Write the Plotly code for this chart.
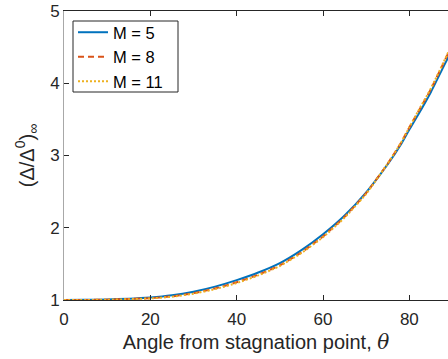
import plotly.graph_objects as go

theta = [0, 5, 10, 15, 20, 25, 30, 35, 40, 45, 50, 55, 60, 65, 70, 75, 78, 80, 82, 85, 88, 90]
m5 = [1.000, 1.002, 1.008, 1.018, 1.035, 1.065, 1.115, 1.185, 1.275, 1.38, 1.51, 1.69, 1.91, 2.17, 2.49, 2.88, 3.15, 3.36, 3.56, 3.88, 4.24, 4.48]
m8 = [1.000, 1.001, 1.005, 1.013, 1.026, 1.050, 1.095, 1.160, 1.245, 1.35, 1.48, 1.66, 1.88, 2.15, 2.48, 2.89, 3.17, 3.39, 3.60, 3.92, 4.29, 4.54]
m11 = [1.000, 1.000, 1.004, 1.011, 1.022, 1.045, 1.088, 1.150, 1.235, 1.34, 1.47, 1.65, 1.87, 2.14, 2.47, 2.89, 3.17, 3.39, 3.61, 3.93, 4.30, 4.56]

names = ["M = 5", "M = 8", "M = 11"]
colors = ["#0072BD", "#D95319", "#EDB120"]
dashes = ["solid", "6px,4px", "2px,2px"]

fig = go.Figure()
for ys, nm, c, d in zip([m5, m8, m11], names, colors, dashes):
    fig.add_trace(go.Scatter(x=theta, y=ys, mode="lines", name=nm,
                             line=dict(color=c, width=2, dash=d, shape="spline", smoothing=0.5)))

# plot area in pixels: x 64..448, y 11..300
def px(x):
    return (x - 64) / 384.0

def py(y):
    return (300 - y) / 289.0

font = "Liberation Sans, Arial, sans-serif"
fig.update_layout(
    width=448, height=359,
    margin=dict(l=64, r=0, t=11, b=59),
    paper_bgcolor="white", plot_bgcolor="white",
    font=dict(family=font, color="#262626"),
    showlegend=True,
    legend=dict(x=px(73), y=py(15), xanchor="left", yanchor="top",
                bgcolor="rgba(0,0,0,0)", borderwidth=0,
                font=dict(size=16.5, color="#000000"), itemwidth=30,
                tracegroupgap=0),
    shapes=[dict(type="rect", xref="paper", yref="paper",
                 x0=px(73), x1=px(178), y0=py(92), y1=py(21),
                 line=dict(color="#262626", width=1), fillcolor="white", layer="below")],
    xaxis=dict(range=[0, 88.95], tickvals=[0, 20, 40, 60, 80], ticks="inside", ticklen=5,
               tickcolor="#262626", showline=True, linecolor="#262626", linewidth=1,
               mirror="ticks", showgrid=False, zeroline=False,
               tickfont=dict(size=17), ticklabelstandoff=4,
               title=dict(text="Angle from stagnation point, <span style=\"font-family:'DejaVu Serif'\"><i>θ</i></span>",
                          font=dict(size=20), standoff=6)),
    yaxis=dict(range=[1, 5], tickvals=[1, 2, 3, 4, 5], ticks="inside", ticklen=5,
               tickcolor="#262626", showline=True, linecolor="#a8a8a8", linewidth=1,
               mirror=False, showgrid=False, zeroline=False,
               tickfont=dict(size=17),
               title=dict(text="(Δ/Δ<sup>0</sup>)<sub>∞</sub>", font=dict(size=20), standoff=10)),
)

fig.write_html("out.html")
